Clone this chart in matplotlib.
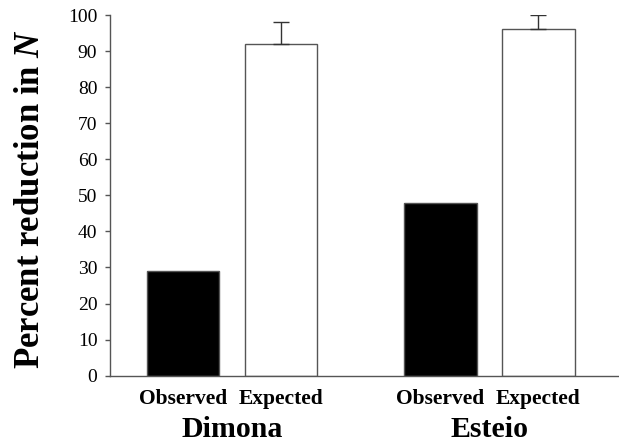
import numpy as np
import matplotlib.pyplot as plt

# données
sites = ["Dimona", "Esteio"]
cats = ["Observed", "Expected"]
observed = [29, 48]
expected = [92, 96]
expected_err = [6, 4]

plt.rcParams["font.family"] = ["Liberation Serif", "DejaVu Serif"]
plt.rcParams["mathtext.fontset"] = "custom"
plt.rcParams["mathtext.it"] = "Liberation Serif:italic:bold"
plt.rcParams["mathtext.rm"] = "Liberation Serif:bold"

W, H = 619, 444
fig = plt.figure(figsize=(W / 100, H / 100), dpi=100)
ax = fig.add_axes([110 / W, 1 - 375.7 / H, 1 - 110 / W, (375.7 - 15) / H])

group_pos = np.array([0.0, 2.628])
width = 0.74
edge = "#555555"

ax.bar(group_pos, observed, width, color="black", edgecolor=edge, linewidth=1)
ax.bar(group_pos + 1, expected, width, color="white", edgecolor=edge, linewidth=1,
       yerr=[np.zeros(len(expected_err)), expected_err],
       error_kw=dict(ecolor="#333333", elinewidth=1, capsize=5.5, capthick=1))

ax.set_ylim(0, 100)
ax.set_xlim(-0.745, 4.45)
ax.set_yticks(range(0, 101, 10))
ax.tick_params(axis="y", direction="out", length=3.6, width=1, color=edge,
               labelsize=14, pad=5.5)
ax.set_xticks([])
for s in ["top", "right"]:
    ax.spines[s].set_visible(False)
for s in ["left", "bottom"]:
    ax.spines[s].set_color(edge)
    ax.spines[s].set_linewidth(1)

# titre de l'axe y, placé en pixels de la figure
fig.text(31 / W, 1 - 199 / H, "Percent reduction in $N$", rotation=90,
         ha="center", va="center", fontsize=25, fontweight="bold")

# étiquettes des barres et des sites
for g, site in zip(group_pos, sites):
    for k, c in enumerate(cats):
        ax.text(g + k, -7.85, c, ha="center", va="baseline", fontsize=15.5,
                fontweight="bold", clip_on=False)
    ax.text(g + 0.5, -17.0, site, ha="center", va="baseline", fontsize=21.5,
            fontweight="bold", clip_on=False)

fig.savefig("out.png", dpi=100)
